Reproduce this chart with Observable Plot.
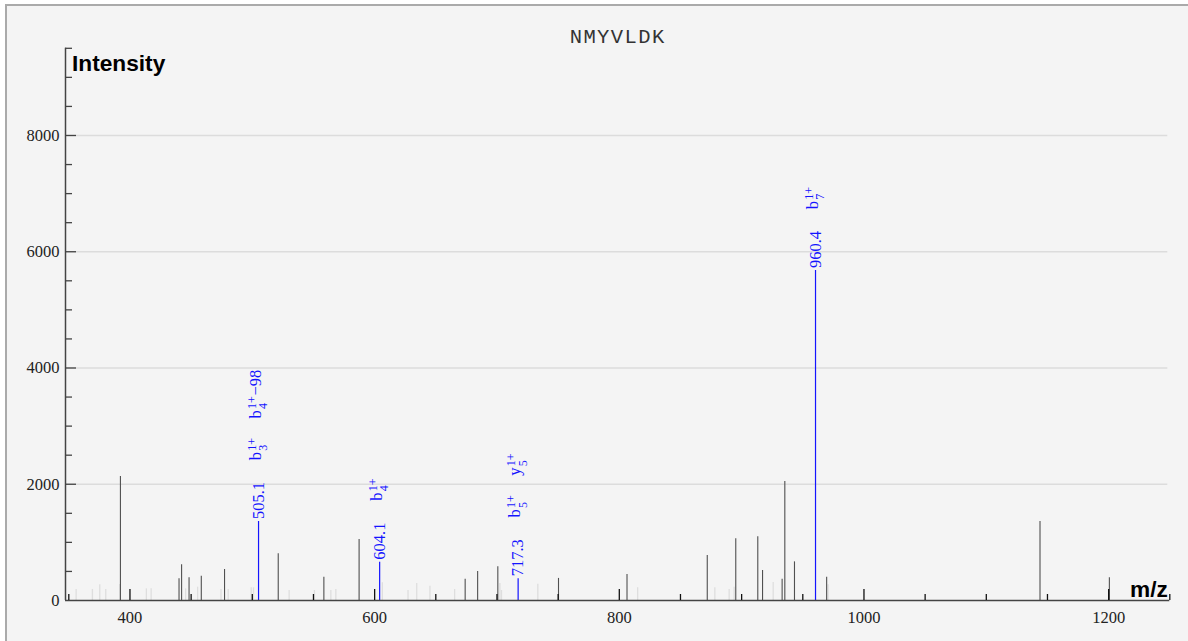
<!DOCTYPE html>
<html>
<head>
<meta charset="utf-8">
<script src="https://cdn.jsdelivr.net/npm/d3@7"></script>
<script src="https://cdn.jsdelivr.net/npm/@observablehq/plot@0.6"></script>
<style>
  html, body { margin: 0; padding: 0; background: #ffffff; overflow: hidden; }
  #frame { position: absolute; left: 5px; top: 4px; width: 1220px; height: 700px;
           border: 2.5px solid #aaaaaa; background: #f4f4f4; }
  #chart { position: absolute; left: 0; top: 0; }
  #chart svg { background: transparent; }
  g.title-mark text { letter-spacing: 1.4px; }
</style>
</head>
<body>
<div id="frame"></div>
<div id="chart"></div>
<script>
// ---- data ----
const title = "NMYVLDK";
const xDomain = [347.3, 1250];
const yDomain = [0, 9500];
const xLabelTicks = [400, 600, 800, 1000, 1200];
const xMinorTicks = [350, 450, 500, 550, 650, 700, 750, 850, 900, 950, 1050, 1100, 1150, 1250];
const yLabelTicks = [0, 2000, 4000, 6000, 8000];
const yGridTicks = [2000, 4000, 6000, 8000];
const yMinorTicks = [500, 1000, 1500, 2500, 3000, 3500, 4500, 5000, 5500, 6500, 7000, 7500, 8500, 9000, 9500];

// unannotated peaks (dark)
const darkMz  = [392.2, 440.1, 442.2, 448.3, 458.3, 477.3, 521.2, 558.5, 587.3, 674.0, 684.2, 700.7, 750.3, 806.3, 871.9, 895.2, 913.2, 917.1, 933.1, 935.3, 943.2, 969.5, 1143.9, 1200.6];
const darkInt = [2133, 373, 614, 390, 418, 533, 803, 401, 1049, 367, 499, 579, 380, 447, 774, 1061, 1095, 516, 367, 2047, 665, 401, 1359, 390];

// faint peaks (light gray)
const lightMz  = [356.0, 369.3, 375.3, 380.2, 391.6, 413.4, 417.3, 445.5, 455.3, 474.4, 480.3, 499.1, 501.0, 530.1, 550.8, 564.2, 568.3, 606.3, 627.3, 634.4, 645.2, 665.4, 702.4, 703.7, 733.4, 815.0, 878.1, 889.8, 893.9, 925.8, 970.7];
const lightInt = [190, 190, 270, 190, 275, 200, 200, 200, 229, 189, 189, 218, 218, 172, 172, 172, 189, 304, 172, 292, 247, 189, 292, 172, 281, 218, 218, 189, 229, 310, 270];

// annotated peaks (blue)
const annMz   = [505.1, 604.1, 717.3, 960.4];
const annInt  = [1359, 660, 373, 5677];
const annText = ["505.1", "604.1", "717.3", "960.4"];

// ion labels stacked above annotated peaks
const ionPeak   = [505.1, 604.1, 717.3, 960.4, 505.1, 717.3];
const ionType   = ["b", "b", "b", "b", "b", "y"];
const ionCharge = ["1+", "1+", "1+", "1+", "1+", "1+"];
const ionIndex  = ["3", "4", "5", "7", "4", "5"];
const ionSuffix = ["", "", "", "", "\u221298", ""];
const ionLevel  = [1, 1, 1, 1, 2, 2];

// ---- tables ----
const dark = darkMz.map((m, i) => ({mz: m, int: darkInt[i]}));
const light = lightMz.map((m, i) => ({mz: m, int: lightInt[i]}));
const ann = annMz.map((m, i) => ({mz: m, int: annInt[i], text: annText[i]}));
const ions = ionPeak.map((m, i) => ({
  mz: m, int: annInt[annMz.indexOf(m)], type: ionType[i], charge: ionCharge[i],
  index: ionIndex[i], suffix: ionSuffix[i], level: ionLevel[i]
}));

const W = 1188, H = 641, mL = 65, mR = 18.7, mT = 47.8, mB = 41;
const plotW = W - mL - mR, plotH = H - mT - mB;
const blue = "#1414ff";

const ionMarks = [];
for (const [lvl, off] of [[1, -61.3], [2, -103]]) {
  const rows = ions.filter(d => d.level === lvl);
  const common = {x: "mz", y: "int", rotate: -90, textAnchor: "start", lineAnchor: "bottom", fill: blue};
  ionMarks.push(
    Plot.text(rows, {...common, text: "type", fontSize: 16.5, dx: 2, dy: off}),
    Plot.text(rows, {...common, text: "charge", fontSize: 12, dx: -2.8, dy: off - 9.5}),
    Plot.text(rows, {...common, text: "index", fontSize: 12, dx: 8.6, dy: off - 9.5}),
    Plot.text(rows.filter(d => d.suffix), {...common, text: "suffix", fontSize: 16.5, dx: 2, dy: off - 23})
  );
}

const chart = Plot.plot({
  width: W, height: H,
  marginLeft: mL, marginRight: mR, marginTop: mT, marginBottom: mB,
  x: {domain: xDomain},
  y: {domain: yDomain},
  style: {background: "transparent", fontFamily: "'Liberation Serif', serif", color: "#222", overflow: "visible"},
  marks: [
    // grid
    Plot.ruleY(yGridTicks, {stroke: "#dcdcdc", strokeWidth: 1.5, insetRight: 2}),
    // faint peaks
    Plot.ruleX(light, {x: "mz", y: "int", stroke: "#dedede", strokeWidth: 1.3}),
    // dark peaks
    Plot.ruleX(dark, {x: "mz", y: "int", stroke: "#505050", strokeWidth: 1.1}),
    // annotated peaks
    Plot.ruleX(ann, {x: "mz", y: "int", stroke: blue, strokeWidth: 1.2}),
    // axis lines
    Plot.ruleX([xDomain[0]], {stroke: "#444", strokeWidth: 1.5}),
    Plot.ruleY([0], {stroke: "#444", strokeWidth: 1.5}),
    // x ticks (inside)
    Plot.ruleX(xMinorTicks, {stroke: "#111", strokeWidth: 1.3, insetTop: plotH - 6}),
    Plot.ruleX(xLabelTicks, {stroke: "#111", strokeWidth: 1.3, insetTop: plotH - 11}),
    // y ticks (inside)
    Plot.ruleY(yMinorTicks, {stroke: "#444", strokeWidth: 1.3, insetRight: plotW - 7}),
    Plot.ruleY(yGridTicks, {stroke: "#444", strokeWidth: 1.3, insetRight: plotW - 11}),
    // tick labels
    Plot.axisX({ticks: xLabelTicks, tickSize: 0, tickPadding: 10.5, fontSize: 16.5, label: null, tickFormat: d => String(d)}),
    Plot.axisY({ticks: yLabelTicks, tickSize: 0, tickPadding: 6, fontSize: 16.5, label: null, tickFormat: d => String(d)}),
    // peak value labels
    Plot.text(ann, {x: "mz", y: "int", text: "text", rotate: -90, textAnchor: "start", lineAnchor: "middle",
                    fontSize: 16.5, fill: blue, dy: -2.5}),
    ...ionMarks,
    // axis titles
    Plot.text(["Intensity"], {frameAnchor: "top-left", textAnchor: "start", lineAnchor: "bottom",
                              dx: 6.5, dy: 23, fontFamily: "'Liberation Sans', Arial, sans-serif",
                              fontWeight: "bold", fontSize: 22.7, fill: "#000"}),
    Plot.text(["m/z"], {frameAnchor: "bottom-right", textAnchor: "end", lineAnchor: "bottom",
                        dx: -2, dy: -4, fontFamily: "'Liberation Sans', Arial, sans-serif",
                        fontWeight: "bold", fontSize: 22.7, fill: "#000"}),
    // title
    Plot.text([title], {frameAnchor: "top", textAnchor: "middle", lineAnchor: "bottom", dy: -5.8,
                        fontFamily: "'Liberation Mono', 'Courier New', monospace", fontSize: 20.5, fill: "#333"})
  ]
});

// tag the title group for letter-spacing
d3.select(chart).selectAll("g").filter(function () {
  const ff = this.getAttribute("font-family");
  return ff && ff.includes("Mono");
}).classed("title-mark", true);

document.getElementById("chart").appendChild(chart);
</script>
</body>
</html>
